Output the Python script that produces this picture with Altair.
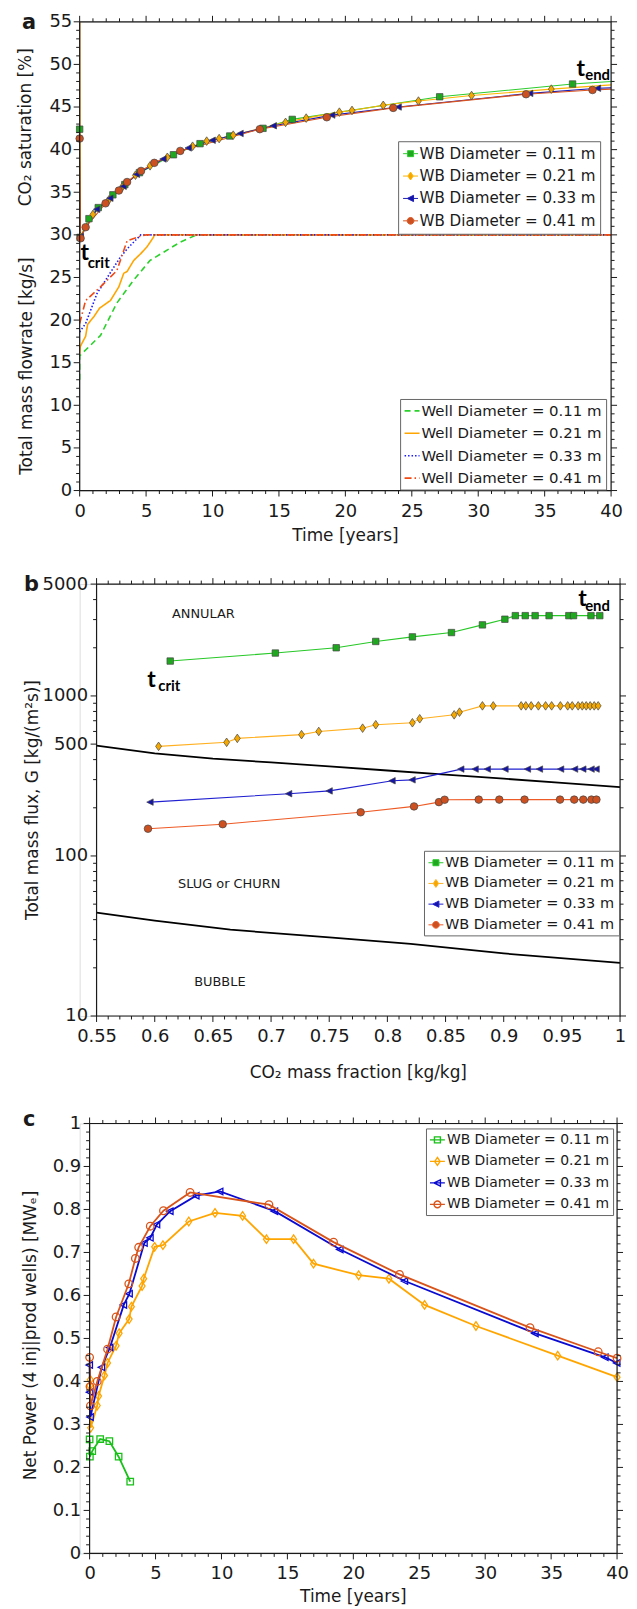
import altair as alt
import pandas as pd

FONT = "DejaVu Sans"
TFONT = "Lato"
INK = "#1a1a1a"

DIAMS = ["0.11", "0.21", "0.33", "0.41"]
WB = ["WB Diameter = %s m" % d for d in DIAMS]
WELL = ["Well Diameter = %s m" % d for d in DIAMS]

# ---------------- Panel a : CO2 saturation markers ----------------
a_sat_t = {
    "0.11": [0, 0.03, 0.7, 1.4, 2.5, 3.4, 4.5, 7.06, 9.06, 11.3, 13.8, 16.0, 27.1, 37.1],
    "0.21": [0.05, 1.0, 2.2, 3.2, 4.2, 5.3, 6.6, 8.5, 9.56, 10.5, 11.56, 15.5, 17.05, 19.55, 20.5, 22.85, 25.5, 29.5, 35.5],
    "0.33": [0.08, 1.3, 2.3, 3.3, 4.3, 6.3, 8.2, 10.0, 12.1, 14.6, 19.0, 24.0, 33.9, 39.0],
    "0.41": [0, 0.07, 0.45, 1.95, 2.95, 3.57, 4.62, 5.62, 7.57, 13.56, 18.6, 23.6, 33.6, 38.6],
}
a_sat_v = {
    "0.11": [42.4, 29.7, 31.9, 33.2, 34.7, 35.9, 37.3, 39.4, 40.7, 41.6, 42.5, 43.55, 46.2, 47.7],
    "0.21": [29.8, 32.4, 34.1, 35.6, 37.0, 38.1, 39.1, 40.4, 41.0, 41.3, 41.7, 43.2, 43.7, 44.4, 44.6, 45.2, 45.7, 46.35, 47.1],
    "0.33": [29.8, 33.0, 34.3, 35.7, 37.1, 38.9, 40.2, 41.1, 41.9, 42.8, 44.05, 45.0, 46.6, 47.2],
    "0.41": [41.3, 29.6, 30.9, 33.7, 35.2, 36.2, 37.5, 38.45, 39.85, 42.4, 43.8, 44.9, 46.5, 47.0],
}
a_sat_top = {"0.21": 60.0, "0.41": 60.0}          # lines entering from above the frame at t = 0
a_sat_end = {"0.11": 48.0, "0.21": 47.6, "0.33": 47.25, "0.41": 47.1}  # values at t = 40

# Panel a : total mass flowrate
a_flow_t = {
    "0.11": [0, 0, 1.57, 2.8, 4.07, 5.3, 7.57, 8.8, 40],
    "0.21": [0, 0.05, 0.45, 0.6, 1.07, 1.5, 2.32, 2.95, 3.32, 3.57, 4.07, 4.6, 5.07, 5.57, 5.6, 40],
    "0.33": [0, 0.45, 1.3, 2.0, 2.57, 3.07, 3.6, 4.6, 40],
    "0.41": [0, 0.45, 1.57, 2.8, 3.57, 4.6, 5.0, 40],
}
a_flow_v = {
    "0.11": [13.0, 15.8, 18.2, 22.0, 24.7, 27.0, 29.15, 30.0, 30.0],
    "0.21": [16.0, 16.9, 18.1, 19.5, 20.4, 21.4, 22.3, 23.9, 25.5, 25.7, 27.0, 27.8, 28.6, 29.75, 30.0, 30.0],
    "0.33": [18.6, 19.6, 23.1, 24.8, 26.2, 27.4, 28.4, 30.0, 30.0],
    "0.41": [19.6, 22.3, 23.9, 25.8, 29.3, 29.85, 30.0, 30.0],
}
a_tick_x_major = list(range(0, 41, 5))
a_tick_x_minor = [v for v in range(0, 41) if v % 5]
a_tick_y_major = list(range(0, 56, 5))
a_tick_y_minor = [v for v in range(0, 56) if v % 5]
a_t_x, a_t_y = [0.07, 37.4], [27.0, 48.6]
a_sub_x, a_sub_y, a_sub_txt = [0.6, 38.05], [26.1, 48.15], ["crit", "end"]

# ---------------- Panel b : flow regime map ----------------
b_x = {
    "0.11": [0.6133, 0.7037, 0.756, 0.790, 0.8215, 0.8551, 0.8817, 0.901, 0.910, 0.9185, 0.927, 0.939, 0.956, 0.960, 0.975, 0.9826],
    "0.21": [0.6033, 0.6618, 0.671, 0.7262, 0.741, 0.7787, 0.790, 0.8215, 0.8278, 0.8574, 0.862, 0.8817, 0.891,
             0.915, 0.919, 0.9236, 0.9298, 0.936, 0.9412, 0.9487, 0.955, 0.9589, 0.964, 0.9675, 0.9709, 0.9743, 0.9778, 0.9812],
    "0.33": [0.5962, 0.7154, 0.7502, 0.8043, 0.8215, 0.8634, 0.8757, 0.8862, 0.9014, 0.9207, 0.931, 0.9492, 0.9612, 0.9683, 0.9754, 0.9797],
    "0.41": [0.5942, 0.6584, 0.777, 0.8229, 0.8443, 0.8492, 0.8785, 0.8962, 0.9179, 0.9484, 0.9606, 0.9684, 0.9754, 0.9797],
}
b_g = {
    "0.11": [1652, 1854, 2000, 2190, 2339, 2489, 2780, 3016, 3175, 3175, 3175, 3175, 3175, 3175, 3175, 3175],
    "0.21": [484, 513, 543, 573, 600, 629, 661, 680, 720, 762, 792, 867, 867,
             867, 867, 867, 867, 867, 867, 867, 867, 867, 867, 867, 867, 867, 867, 867],
    "0.33": [217, 245, 255, 295, 299, 349, 349, 349, 349, 349, 349, 349, 349, 349, 349, 349],
    "0.41": [148, 158, 187.5, 204, 217, 224.6, 225, 225, 225, 225, 225, 225, 225, 225],
}
b_hi_x = [0.55, 0.6, 0.65, 0.7, 0.75, 0.8, 0.85, 0.9, 0.95, 1.0]
b_hi_g = [489, 438, 406, 384, 363, 342, 322, 304, 286, 269]
b_lo_x = [0.55, 0.6, 0.665, 0.75, 0.82, 0.9, 1.0]
b_lo_g = [44.3, 39.5, 34.6, 31.0, 28.2, 24.6, 21.5]
b_region_x = [0.6418, 0.664, 0.656]
b_region_g = [3255, 67, 16.4]
b_region_txt = ["ANNULAR", "SLUG  or  CHURN", "BUBBLE"]
b_tick_x_major = [round(0.55 + 0.05 * i, 2) for i in range(10)]
b_tick_x_minor = [round(0.55 + 0.01 * i, 2) for i in range(46) if i % 5]
b_tick_y_major = [10, 100, 500, 1000, 5000]
b_tick_y_minor = [20, 30, 40, 50, 60, 70, 80, 90, 200, 300, 400, 600, 700, 800, 900, 2000, 3000, 4000]
b_t_x, b_t_y = [0.5936, 0.964], [1144, 3648]
b_sub_x, b_sub_y, b_sub_txt = [0.603, 0.970], [1080, 3397], ["crit", "end"]

# ---------------- Panel c : net power ----------------
c_t = {
    "0.11": [0, 0.02, 0.2, 0.8, 1.5, 2.2, 3.08],
    "0.21": [0.02, 0.05, 0.08, 0.58, 0.68, 1.13, 1.36, 2.01, 2.24, 3.0, 3.17, 3.98, 4.1, 4.93, 5.56, 7.52, 9.51,
             11.6, 13.41, 15.47, 16.98, 20.4, 22.7, 25.4, 29.3, 35.5, 40.0],
    "0.33": [0, 0.03, 0.06, 0.92, 1.54, 2.59, 3.02, 4.15, 4.6, 5.1, 6.11, 8.08, 9.89, 14.04, 19.0, 23.9, 33.8, 39.1, 40.0],
    "0.41": [0, 0.03, 0.06, 0.58, 1.36, 2.01, 2.97, 3.47, 3.72, 4.6, 5.6, 7.62, 13.6, 18.5, 23.5, 33.4, 38.57, 40.0],
}
c_p = {
    "0.11": [0.265, 0.225, 0.238, 0.266, 0.261, 0.225, 0.167],
    "0.21": [0.39, 0.404, 0.292, 0.344, 0.366, 0.414, 0.443, 0.483, 0.512, 0.545, 0.574, 0.622, 0.639, 0.713, 0.717,
             0.772, 0.792, 0.785, 0.731, 0.731, 0.674, 0.647, 0.639, 0.578, 0.529, 0.46, 0.41],
    "0.33": [0.438, 0.375, 0.317, 0.433, 0.479, 0.578, 0.604, 0.722, 0.734, 0.765, 0.796, 0.832, 0.842, 0.796, 0.707,
             0.6335, 0.5116, 0.456, 0.443],
    "0.41": [0.456, 0.388, 0.343, 0.40, 0.475, 0.55, 0.627, 0.686, 0.712, 0.761, 0.797, 0.8395, 0.811, 0.724, 0.649,
             0.525, 0.469, 0.454],
}
c_tick_x_major = list(range(0, 41, 5))
c_tick_x_minor = [v for v in range(0, 41) if v % 5]
c_tick_y_major = [round(0.1 * i, 1) for i in range(11)]
c_tick_y_minor = [round(0.02 * i, 2) for i in range(51) if i % 5]

# ---------------- styles ----------------
A_LINE = {"0.11": "#2ecc2e", "0.21": "#ffb300", "0.33": "#1c1cb4", "0.41": "#d9531e"}
A_FILL = {"0.11": "#1fa81f", "0.21": "#f5a900", "0.33": "#1414a8", "0.41": "#cc5020"}
A_FLOW = ["#2bd12b", "#ffa500", "#1a1aff", "#f04a15"]
A_DASH = [[6, 4], [1, 0], [1.5, 2], [7, 3, 1.5, 3]]
B_LINE = {"0.11": "#27c827", "0.21": "#ffb020", "0.33": "#2020d0", "0.41": "#ee5a25"}
C_LINE = {"0.11": "#18c018", "0.21": "#ffa500", "0.33": "#0a0ad0", "0.41": "#d9541a"}

DIAMOND = "M0,-1L0.68,0L0,1L-0.68,0Z"
TRILEFT = "M-0.95,0L0.75,-0.85L0.75,0.85Z"
SHAPE = {"0.11": "square", "0.21": DIAMOND, "0.33": TRILEFT, "0.41": "circle"}
SIZE = {"0.11": 42, "0.21": 75, "0.33": 58, "0.41": 58}
LEG_FILLED = [
    "M-1,0H-0.4M0.4,0H1M-0.4,-0.4H0.4V0.4H-0.4Z",
    "M-1,0H-0.36M0.36,0H1M0,-0.53L0.36,0L0,0.53L-0.36,0Z",
    "M-1,0H-0.45M0.4,0H1M-0.45,0L0.4,-0.42L0.4,0.42Z",
    "M-1,0H-0.45M0.45,0H1M-0.45,0A0.45,0.45 0 1,0 0.45,0A0.45,0.45 0 1,0 -0.45,0Z",
]
LEG_OPEN = [
    "M-1,0H1M-0.4,-0.4H0.4V0.4H-0.4Z",
    "M-1,0H1M0,-0.53L0.36,0L0,0.53L-0.36,0Z",
    "M-1,0H1M-0.45,0L0.4,-0.42L0.4,0.42Z",
    "M-1,0H1M-0.45,0A0.45,0.45 0 1,0 0.45,0A0.45,0.45 0 1,0 -0.45,0Z",
]

ONE = pd.DataFrame({"k": [0]})
TICK_FS = 18
TITLE_FS = 17


def text_px(s, x, y, size=TITLE_FS, angle=0, weight="normal", font=FONT, align="center"):
    return alt.Chart(ONE).mark_text(text=s, fontSize=size, angle=angle, fontWeight=weight, font=font,
                                    align=align, baseline="alphabetic", color=INK).encode(
        x=alt.value(x), y=alt.value(y))


def anchor(x, y):
    return alt.Chart(ONE).mark_rule(strokeOpacity=0, strokeWidth=1).encode(
        x=alt.value(x), x2=alt.value(x + 1), y=alt.value(y))


def frame(x0, w, h):
    return alt.Chart(ONE).mark_rect(fillOpacity=0, stroke=INK, strokeWidth=1.2).encode(
        x=alt.value(x0), x2=alt.value(x0 + w), y=alt.value(0), y2=alt.value(h))


def axis(values, fmt, pad, offset=0):
    return alt.Axis(values=values, format=fmt, ticks=False, domain=False, grid=False, title=None,
                    labelFont=FONT, labelFontSize=TICK_FS, labelColor=INK, labelPadding=pad,
                    labelFlush=False, labelOverlap=False, offset=offset)


def ticks(X, Y, x0, W, H, xmaj, xmin, ymaj, ymin, L=6, l=3.5):
    out = []
    for vals, ln in ((xmaj, L), (xmin, l)):
        base = alt.Chart(pd.DataFrame({"v": vals})).mark_rule(color=INK, strokeWidth=1)
        Xv = alt.X("v:Q", scale=X[0], axis=X[1])
        out.append(base.encode(x=Xv, y=alt.value(H), y2=alt.value(H + ln)))
        out.append(base.encode(x=Xv, y=alt.value(0), y2=alt.value(-ln)))
    for vals, ln in ((ymaj, L), (ymin, l)):
        base = alt.Chart(pd.DataFrame({"v": vals})).mark_rule(color=INK, strokeWidth=1)
        Yv = alt.Y("v:Q", scale=Y[0], axis=Y[1])
        out.append(base.encode(y=Yv, x=alt.value(x0), x2=alt.value(x0 - ln)))
        out.append(base.encode(y=Yv, x=alt.value(x0 + W), x2=alt.value(x0 + W + ln)))
    return out


def legend(x, y, size=15.2, rowpad=5.5, pad=4, **kw):
    return alt.Legend(orient="none", legendX=x, legendY=y, title=None, labelFont=FONT, labelFontSize=size,
                      labelColor=INK, labelOffset=1, labelLimit=400, symbolSize=225, strokeColor="#666666",
                      fillColor="white", padding=pad, rowPadding=rowpad, **kw)


def tsub(X, Y, tx, ty, sx, sy, stxt):
    t_df = pd.DataFrame({"x": tx, "y": ty})
    s_df = pd.DataFrame({"x": sx, "y": sy, "s": stxt})
    a = alt.Chart(t_df).mark_text(text="t", font=TFONT, fontWeight="bold", fontSize=23, align="left",
                                   baseline="alphabetic", color="black").encode(
        x=alt.X("x:Q", scale=X[0], axis=X[1]), y=alt.Y("y:Q", scale=Y[0], axis=Y[1]))
    b = alt.Chart(s_df).mark_text(font=TFONT, fontWeight="bold", fontSize=15, align="left",
                                   baseline="alphabetic", color="black").encode(
        x=alt.X("x:Q", scale=X[0], axis=X[1]), y=alt.Y("y:Q", scale=Y[0], axis=Y[1]), text="s:N")
    return [a, b]


def enc(X, Y, xf, yf):
    return dict(x=alt.X(xf, scale=X[0], axis=X[1]), y=alt.Y(yf, scale=Y[0], axis=Y[1]))


# ======================= Panel a =======================
OFF_A, W_A, H_A = 0, 534, 471
XA = (alt.Scale(domain=[0, 40], range=[OFF_A, OFF_A + W_A], nice=False, zero=False),
      axis(a_tick_x_major, "d", 12))
YA = (alt.Scale(domain=[0, 55], nice=False, zero=False), axis(a_tick_y_major, "d", 8, -OFF_A))
la = []

frows = []
for d, lab in zip(DIAMS, WELL):
    for i, (t, v) in enumerate(zip(a_flow_t[d], a_flow_v[d])):
        frows.append({"well": lab, "t": t, "v": v, "i": i})
LEG_FLOW = legend(322, 379, size=15, pad=3.5, symbolType="stroke", symbolStrokeWidth=1.6)
la.append(alt.Chart(pd.DataFrame(frows)).mark_line(strokeWidth=1.6, clip=True).encode(
    **enc(XA, YA, "t:Q", "v:Q"),
    color=alt.Color("well:N", scale=alt.Scale(domain=WELL, range=A_FLOW), legend=LEG_FLOW),
    strokeDash=alt.StrokeDash("well:N", scale=alt.Scale(domain=WELL, range=A_DASH), legend=LEG_FLOW),
    order=alt.Order("i:Q")))

for d in DIAMS:
    ts = ([0] if d in a_sat_top else []) + a_sat_t[d] + [40]
    vs = ([a_sat_top[d]] if d in a_sat_top else []) + a_sat_v[d] + [a_sat_end[d]]
    df = pd.DataFrame({"t": ts, "v": vs, "i": list(range(len(ts)))})
    la.append(alt.Chart(df).mark_line(color=A_LINE[d], strokeWidth=1.1, clip=True).encode(
        **enc(XA, YA, "t:Q", "v:Q"), order=alt.Order("i:Q")))
for d in DIAMS:
    df = pd.DataFrame({"t": a_sat_t[d], "v": a_sat_v[d]})
    la.append(alt.Chart(df).mark_point(filled=True, fill=A_FILL[d], stroke="#444444", strokeWidth=0.7,
                                       size=SIZE[d], shape=SHAPE[d], opacity=1).encode(
        **enc(XA, YA, "t:Q", "v:Q")))

LEG_SAT = legend(320, 120, pad=4.5, symbolStrokeWidth=1)
la.append(alt.Chart(pd.DataFrame({"wb": WB})).transform_filter("datum.wb == 'none'").mark_point(
    filled=True, opacity=1).encode(
    fill=alt.Fill("wb:N", scale=alt.Scale(domain=WB, range=[A_FILL[d] for d in DIAMS]), legend=LEG_SAT),
    stroke=alt.Stroke("wb:N", scale=alt.Scale(domain=WB, range=[A_LINE[d] for d in DIAMS]), legend=LEG_SAT),
    shape=alt.Shape("wb:N", scale=alt.Scale(domain=WB, range=LEG_FILLED), legend=LEG_SAT)))

la += ticks(XA, YA, OFF_A, W_A, H_A, a_tick_x_major, a_tick_x_minor, a_tick_y_major, a_tick_y_minor)
la += tsub(XA, YA, a_t_x, a_t_y, a_sub_x, a_sub_y, a_sub_txt)
la += [
    frame(OFF_A, W_A, H_A),
    text_px("a", -58, 7.6, size=21, weight="bold", align="left"),
    text_px("CO\u2082 saturation [%]", -49, 106, angle=270),
    text_px("Total mass flowrate [kg/s]", -48, 346, angle=270),
    text_px("Time [years]", OFF_A + W_A / 2, H_A + 51),
    anchor(-71, -9), anchor(-71, H_A + 60),
]
panel_a = alt.layer(*la).properties(width=OFF_A + W_A, height=H_A)

# ======================= Panel b =======================
OFF_B, W_B, H_B = 17, 526, 434
XB = (alt.Scale(domain=[0.55, 1.0], range=[OFF_B, OFF_B + W_B], nice=False, zero=False),
      axis(b_tick_x_major, "~g", 12))
YB = (alt.Scale(type="log", domain=[10, 5000], nice=False), axis(b_tick_y_major, "d", 9, -OFF_B))
lb = []
lb.append(alt.Chart(pd.DataFrame({"x": b_hi_x, "g": b_hi_g})).mark_line(color="black", strokeWidth=1.8).encode(
    **enc(XB, YB, "x:Q", "g:Q")))
lb.append(alt.Chart(pd.DataFrame({"x": b_lo_x, "g": b_lo_g})).mark_line(color="black", strokeWidth=1.8).encode(
    **enc(XB, YB, "x:Q", "g:Q")))
for d in DIAMS:
    df = pd.DataFrame({"x": b_x[d], "g": b_g[d]})
    lb.append(alt.Chart(df).mark_line(color=B_LINE[d], strokeWidth=1.1).encode(**enc(XB, YB, "x:Q", "g:Q")))
for d in DIAMS:
    df = pd.DataFrame({"x": b_x[d], "g": b_g[d]})
    lb.append(alt.Chart(df).mark_point(filled=True, fill=A_FILL[d], stroke="#444444", strokeWidth=0.7,
                                       size=SIZE[d], shape=SHAPE[d], opacity=1).encode(
        **enc(XB, YB, "x:Q", "g:Q")))
LEG_B = legend(OFF_B + 329, 268, size=14.6, rowpad=5.8, symbolStrokeWidth=1)
lb.append(alt.Chart(pd.DataFrame({"wb": WB})).transform_filter("datum.wb == 'none'").mark_point(
    filled=True, opacity=1).encode(
    fill=alt.Fill("wb:N", scale=alt.Scale(domain=WB, range=[A_FILL[d] for d in DIAMS]), legend=LEG_B),
    stroke=alt.Stroke("wb:N", scale=alt.Scale(domain=WB, range=[B_LINE[d] for d in DIAMS]), legend=LEG_B),
    shape=alt.Shape("wb:N", scale=alt.Scale(domain=WB, range=LEG_FILLED), legend=LEG_B)))
lb.append(alt.Chart(pd.DataFrame({"x": b_region_x, "g": b_region_g, "s": b_region_txt})).mark_text(
    font=FONT, fontSize=13, color=INK, align="center", baseline="middle").encode(
    **enc(XB, YB, "x:Q", "g:Q"), text="s:N"))
lb += ticks(XB, YB, OFF_B, W_B, H_B, b_tick_x_major, b_tick_x_minor, b_tick_y_major, b_tick_y_minor)
lb += tsub(XB, YB, b_t_x, b_t_y, b_sub_x, b_sub_y, b_sub_txt)
lb += [
    frame(OFF_B, W_B, H_B),
    text_px("b", -56, 6.7, size=21, weight="bold", align="left"),
    text_px("Total mass flux, G [kg/(m\u00b2s)]", -42, H_B / 2, angle=270),
    text_px("CO\u2082 mass fraction [kg/kg]", OFF_B + W_B / 2, H_B + 62),
    anchor(-71, -32), anchor(-71, H_B + 70),
]
panel_b = alt.layer(*lb).properties(width=OFF_B + W_B, height=H_B)

# ======================= Panel c =======================
OFF_C, W_C, H_C = 10, 530, 432
XC = (alt.Scale(domain=[0, 40], range=[OFF_C, OFF_C + W_C], nice=False, zero=False),
      axis(c_tick_x_major, "d", 11))
YC = (alt.Scale(domain=[0, 1], nice=False, zero=False), axis(c_tick_y_major, "~g", 9, -OFF_C))
lc = []
for d in DIAMS:
    df = pd.DataFrame({"t": c_t[d], "p": c_p[d], "i": list(range(len(c_t[d])))})
    lc.append(alt.Chart(df).mark_line(color=C_LINE[d], strokeWidth=1.8).encode(
        **enc(XC, YC, "t:Q", "p:Q"), order=alt.Order("i:Q")))
    lc.append(alt.Chart(df).mark_point(filled=False, stroke=C_LINE[d], strokeWidth=1.3,
                                       size=SIZE[d], shape=SHAPE[d], opacity=1).encode(
        **enc(XC, YC, "t:Q", "p:Q")))
LEG_C = legend(OFF_C + 338, 5, size=14, rowpad=5.6, pad=3, symbolStrokeWidth=1.4)
lc.append(alt.Chart(pd.DataFrame({"wb": WB})).transform_filter("datum.wb == 'none'").mark_point(
    filled=False, opacity=1).encode(
    stroke=alt.Stroke("wb:N", scale=alt.Scale(domain=WB, range=[C_LINE[d] for d in DIAMS]), legend=LEG_C),
    shape=alt.Shape("wb:N", scale=alt.Scale(domain=WB, range=LEG_OPEN), legend=LEG_C)))
lc += ticks(XC, YC, OFF_C, W_C, H_C, c_tick_x_major, c_tick_x_minor, c_tick_y_major, c_tick_y_minor)
lc += [
    frame(OFF_C, W_C, H_C),
    text_px("c", -57, 3, size=21, weight="bold", align="left"),
    text_px("Net Power (4 inj|prod wells) [MW\u2091]", -44, 213, angle=270),
    text_px("Time [years]", OFF_C + W_C / 2, H_C + 48.5),
    anchor(-71, -36),
]
panel_c = alt.layer(*lc).properties(width=OFF_C + W_C, height=H_C)

chart = alt.concat(panel_a, panel_b, panel_c, columns=1, spacing=0).resolve_scale(
    fill="independent", stroke="independent", shape="independent", color="independent",
    strokeDash="independent"
).resolve_legend(
    fill="independent", stroke="independent", shape="independent", color="independent",
    strokeDash="independent"
).properties(padding=0).configure_view(stroke=None).configure(background="white")

chart.save("out.html", embed_options={"renderer": "svg", "actions": False})
